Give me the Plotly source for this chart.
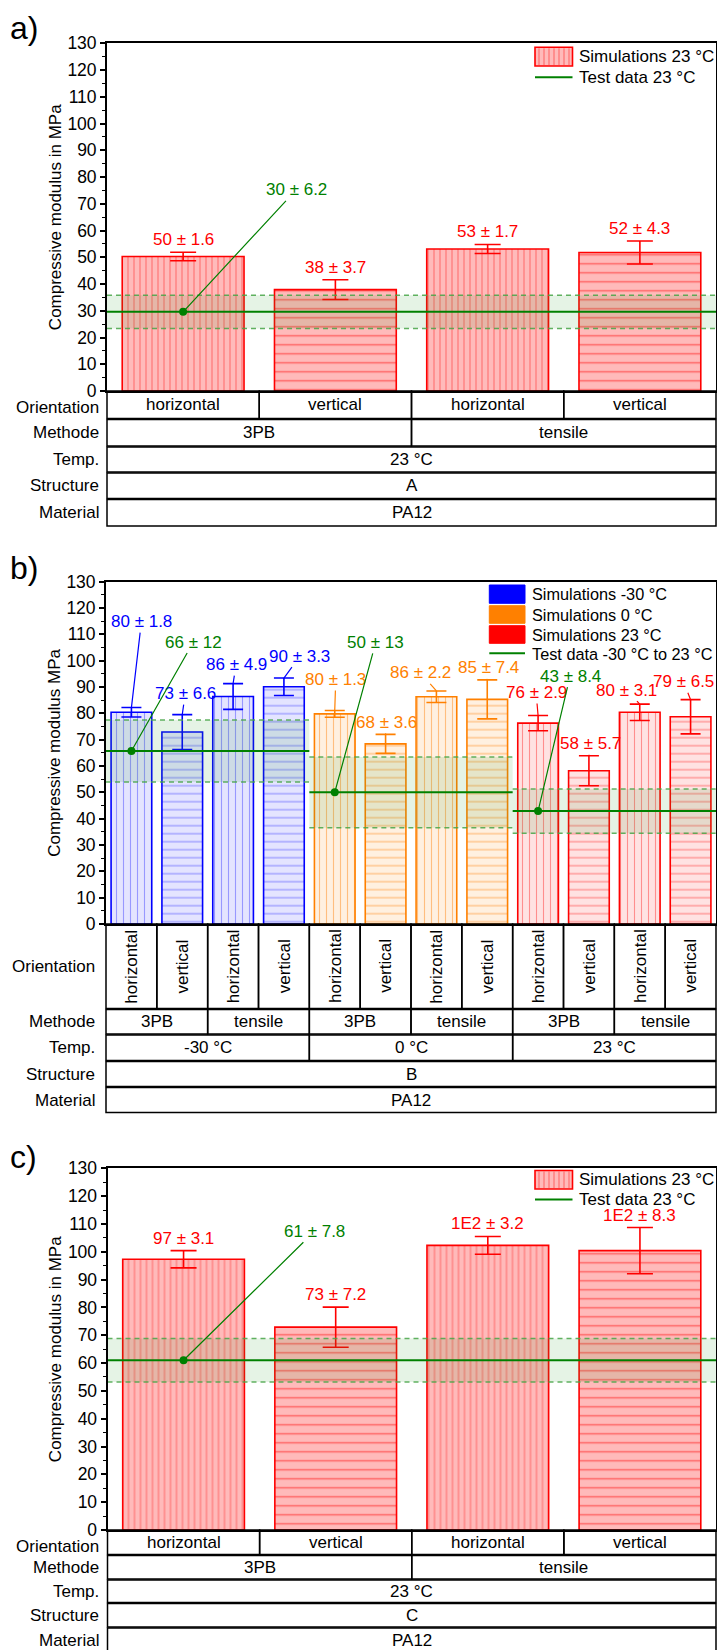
import math
import plotly.graph_objects as go

W, H = 717, 1650
FONT = "Liberation Sans, Arial, Helvetica, sans-serif"
FS = 17
TICK_FS = 17.5

# ---------------- data ----------------
row_names = ["Orientation", "Methode", "Temp.", "Structure", "Material"]

# a) structure A, 23 °C
a_orientation = ["horizontal", "vertical", "horizontal", "vertical"]
a_method = ["3PB", "tensile"]
a_temperature = ["23 °C"]
a_structure = ["A"]
a_material = ["PA12"]
a_modulus = [50.3, 37.9, 53.1, 51.8]
a_modulus_sd = [1.6, 3.7, 1.7, 4.3]
a_test_mean = [29.6]
a_test_sd = [6.2]

# b) structure B, -30 °C / 0 °C / 23 °C
b_orientation = ["horizontal", "vertical"] * 6
b_method = ["3PB", "tensile"] * 3
b_temperature = ["-30 °C", "0 °C", "23 °C"]
b_structure = ["B"]
b_material = ["PA12"]
b_modulus = [80.4, 72.9, 86.4, 90.1, 79.8, 68.4, 86.3, 85.3, 76.3, 58.2, 80.4, 78.7]
b_modulus_sd = [1.8, 6.6, 4.9, 3.3, 1.3, 3.6, 2.2, 7.4, 2.9, 5.7, 3.1, 6.5]
b_test_mean = [65.7, 50.0, 42.9]
b_test_sd = [11.8, 13.4, 8.4]

# c) structure C, 23 °C
c_orientation = ["horizontal", "vertical", "horizontal", "vertical"]
c_method = ["3PB", "tensile"]
c_temperature = ["23 °C"]
c_structure = ["C"]
c_material = ["PA12"]
c_modulus = [97.3, 72.9, 102.3, 100.4]
c_modulus_sd = [3.1, 7.2, 3.2, 8.3]
c_test_mean = [61.0]
c_test_sd = [7.8]

# ---------------- style ----------------
RED, BLUE, ORANGE, GREEN = "#ff0000", "#0000ff", "#ff8000", "#008000"
BAND = "rgba(40,160,40,0.12)"
BAND_EDGE = "rgba(70,165,70,0.85)"
BAR_STYLE = {
    "red_a": dict(edge=RED, bg="#ffbaba", fg="rgba(255,40,40,0.6)"),
    "blue": dict(edge=BLUE, bg="#e4e4ff", fg="rgba(60,60,255,0.45)"),
    "orange": dict(edge=ORANGE, bg="#fff0e0", fg="rgba(255,140,30,0.5)"),
    "red_b": dict(edge=RED, bg="#ffe2e2", fg="rgba(255,40,40,0.45)"),
}


def px(x):
    return x / W


def py(y):
    return 1 - y / H


def sig2(v):
    """Two significant digits, Origin style (100 -> 1E2)."""
    d = math.floor(math.log10(abs(v)))
    r = round(v, 1 - d)
    if d >= 2:
        m = r / 10 ** d
        ms = f"{m:.1f}".rstrip("0").rstrip(".")
        return f"{ms}E{d}"
    return f"{r:.{max(0, 1 - d)}f}"


def pm(v, e):
    return f"{sig2(v)} ± {sig2(e)}"


fig = go.Figure()
annotations = []
shapes = []


def add_bars(xa, ya, idx, vals, errs, orient, style, cap, hsize, vsize):
    st = BAR_STYLE[style]
    shp = ["|" if o == "horizontal" else "-" for o in orient]
    sz = [vsize if o == "horizontal" else hsize for o in orient]
    fig.add_trace(go.Bar(
        x=idx, y=vals, width=0.8, xaxis=xa, yaxis=ya, showlegend=False,
        hoverinfo="skip",
        marker=dict(color=st["bg"], line=dict(color=st["edge"], width=1.6),
                    pattern=dict(shape=shp, fgcolor=st["fg"], bgcolor=st["bg"],
                                 size=sz, solidity=0.16, fillmode="replace")),
        error_y=dict(type="data", array=errs, color=st["edge"], thickness=1.6, width=cap),
    ))


def add_test(xa, ya, x_from, x_to, mean, sd, pt_x):
    xr = [x_from, x_to]
    common = dict(xaxis=xa, yaxis=ya, showlegend=False, hoverinfo="skip", mode="lines")
    fig.add_trace(go.Scatter(x=xr, y=[mean + sd] * 2,
                             line=dict(color=BAND_EDGE, width=1.5, dash="5px,4px"), **common))
    fig.add_trace(go.Scatter(x=xr, y=[mean - sd] * 2, fill="tonexty", fillcolor=BAND,
                             line=dict(color=BAND_EDGE, width=1.5, dash="5px,4px"), **common))
    fig.add_trace(go.Scatter(x=xr, y=[mean] * 2, line=dict(color=GREEN, width=2), **common))
    fig.add_trace(go.Scatter(x=[pt_x], y=[mean], mode="markers", xaxis=xa, yaxis=ya,
                             showlegend=False, hoverinfo="skip",
                             marker=dict(color=GREEN, size=8)))


def label(xa, ya, x, y, text, color, ax=None, ay=None):
    a = dict(x=x, y=y, xref=xa, yref=ya, text=text,
             font=dict(family=FONT, size=FS, color=color))
    if ax is None:
        a.update(showarrow=False, xanchor="center", yanchor="bottom", yshift=1)
    else:
        a.update(showarrow=True, ax=ax, ay=ay, arrowhead=0, arrowwidth=1.2,
                 arrowcolor=color, standoff=0)
    annotations.append(a)


def text_at(x, y, text, size=FS, xanchor="center", angle=0, xref="paper"):
    annotations.append(dict(x=x, y=y, xref=xref, yref="paper", text=text, textangle=angle,
                            showarrow=False, xanchor=xanchor, yanchor="middle",
                            font=dict(family=FONT, size=size, color="black")))


def table(xa, ncat, rows, cells, lab_x, rotate_first=False, first_label_drop=0):
    dom = xa + " domain"
    for r, ((top, bot), name, labels) in enumerate(zip(rows, row_names, cells)):
        span = ncat // len(labels)
        for k, txt in enumerate(labels):
            x0 = k * span / ncat
            x1 = (k + 1) * span / ncat
            shapes.append(dict(type="rect", xref=dom, yref="paper", x0=x0, x1=x1,
                               y0=py(bot), y1=py(top), line=dict(color="black", width=1.5)))
            angle = -90 if (rotate_first and name == "Orientation") else 0
            text_at((x0 + x1) / 2, py((top + bot) / 2), txt, angle=angle, xref=dom)
        drop = first_label_drop if r == 0 else 0
        text_at(px(lab_x), py((top + bot) / 2 + drop), name, xanchor="right")


def axes(n, x0, x1, top, bot, ncat):
    sx = "" if n == 1 else str(n)
    xa = dict(domain=[px(x0), px(x1)], range=[-0.5, ncat - 0.5], showticklabels=False,
              ticks="", showline=True, linecolor="black", linewidth=1.8, mirror=True,
              showgrid=False, zeroline=False, anchor="y" + sx, automargin=False)
    ya = dict(domain=[py(bot), py(top)], range=[0, 130], dtick=10, tick0=0,
              ticks="outside", ticklen=5, tickwidth=1.5, tickcolor="black",
              minor=dict(dtick=5, ticks="outside", ticklen=3, tickwidth=1.2, tickcolor="black"),
              showline=True, linecolor="black", linewidth=1.8, mirror=True,
              showgrid=False, zeroline=False, anchor="x" + sx, automargin=False,
              tickfont=dict(family=FONT, size=TICK_FS, color="black"))
    return {"xaxis" + sx: xa, "yaxis" + sx: ya}


def ytitle(text, top, bot):
    text_at(px(55), py((top + bot) / 2), text, angle=-90)


def tag(text, y):
    text_at(px(8), py(y), text, size=32, xanchor="left")


def legend_text(x, y, text, size=17):
    text_at(px(x), py(y), text, size=size, xanchor="left")


def legend_patch_hatched(x0, x1, y0, y1):
    st = BAR_STYLE["red_a"]
    shapes.append(dict(type="rect", xref="paper", yref="paper", x0=px(x0), x1=px(x1),
                       y0=py(y1), y1=py(y0), fillcolor=st["bg"],
                       line=dict(color=RED, width=1.6)))
    x = x0 + 4
    while x < x1 - 2:
        shapes.append(dict(type="line", xref="paper", yref="paper", x0=px(x), x1=px(x),
                           y0=py(y1 - 1), y1=py(y0 + 1), line=dict(color=st["fg"], width=1)))
        x += 5


def legend_patch_solid(x0, x1, y0, y1, color):
    shapes.append(dict(type="rect", xref="paper", yref="paper", x0=px(x0), x1=px(x1),
                       y0=py(y1), y1=py(y0), fillcolor=color,
                       line=dict(color=color, width=1)))


def legend_line(x0, x1, y):
    shapes.append(dict(type="line", xref="paper", yref="paper", x0=px(x0), x1=px(x1),
                       y0=py(y), y1=py(y), line=dict(color=GREEN, width=2)))


layout_axes = {}

# ================= panel a =================
A = dict(x0=107, x1=716, top=43.3, bot=391)
layout_axes.update(axes(1, A["x0"], A["x1"], A["top"], A["bot"], 4))
idx4 = list(range(4))
add_bars("x", "y", idx4, a_modulus, a_modulus_sd, a_orientation, "red_a", 13, 9, 6)
add_test("x", "y", -0.5, 3.5, a_test_mean[0], a_test_sd[0], 0)
for i in idx4:
    label("x", "y", i, a_modulus[i] + a_modulus_sd[i], pm(a_modulus[i], a_modulus_sd[i]), RED)
label("x", "y", 0, a_test_mean[0], pm(a_test_mean[0], a_test_sd[0]), GREEN, 113, -122)
table("x", 4, [(391, 418.5), (419.5, 446), (447, 472), (473, 498.5), (499.5, 526)],
      [a_orientation, a_method, a_temperature, a_structure, a_material], 100.6,
      first_label_drop=2.5)
ytitle("Compressive modulus in MPa", A["top"], A["bot"])
tag("a)", 28)
legend_patch_hatched(535, 572.5, 47.3, 66)
legend_text(577, 56.7, "Simulations 23 °C")
legend_line(535, 572.5, 77.3)
legend_text(577, 77.3, "Test data 23 °C")

# ================= panel b =================
B = dict(x0=106, x1=716, top=581.7, bot=924)
layout_axes.update(axes(2, B["x0"], B["x1"], B["top"], B["bot"], 12))
group_style = ["blue", "orange", "red_b"]
group_color = [BLUE, ORANGE, RED]
# label offsets (px) relative to the error-bar tip
b_label_dx = [10, 3, 3, 16, 1, 1, -16, 1, -2, 2, -13, -7]
b_label_dy = [-86, -21, -19, -22, -31, -12, -18, -12, -23, -12, -14, -18]
b_test_dx = [62, 41, 32]
b_test_dy = [-109, -150, -135]
for g in range(3):
    idx = [4 * g + k for k in range(4)]
    add_bars("x2", "y2", idx, [b_modulus[i] for i in idx], [b_modulus_sd[i] for i in idx],
             [b_orientation[i] for i in idx], group_style[g], 10, 8, 7)
for g in range(3):
    add_test("x2", "y2", 4 * g - 0.5, 4 * g + 3.5, b_test_mean[g], b_test_sd[g], 4 * g)
for i in range(12):
    label("x2", "y2", i, b_modulus[i] + b_modulus_sd[i], pm(b_modulus[i], b_modulus_sd[i]),
          group_color[i // 4], b_label_dx[i], b_label_dy[i])
for g in range(3):
    label("x2", "y2", 4 * g, b_test_mean[g], pm(b_test_mean[g], b_test_sd[g]), GREEN,
          b_test_dx[g], b_test_dy[g])
table("x2", 12, [(924, 1008.5), (1009.5, 1034), (1035, 1060.5), (1061.5, 1086.5), (1087.5, 1112.5)],
      [b_orientation, b_method, b_temperature, b_structure, b_material], 97.4, rotate_first=True)
ytitle("Compressive modulus MPa", B["top"], B["bot"])
tag("b)", 567.5)
legend_patch_solid(489.3, 525, 585, 603.3, BLUE)
legend_patch_solid(489.3, 525, 605.7, 623.3, ORANGE)
legend_patch_solid(489.3, 525, 625.7, 643.3, RED)
legend_line(489.3, 525, 653.3)
legend_text(530.4, 594, "Simulations -30 °C", 16.3)
legend_text(530.4, 614.5, "Simulations 0 °C", 16.3)
legend_text(530.4, 634.5, "Simulations 23 °C", 16.3)
legend_text(530.4, 654, "Test data -30 °C to 23 °C", 16.3)

# ================= panel c =================
C = dict(x0=107.5, x1=716, top=1168.3, bot=1530)
layout_axes.update(axes(3, C["x0"], C["x1"], C["top"], C["bot"], 4))
add_bars("x3", "y3", idx4, c_modulus, c_modulus_sd, c_orientation, "red_a", 13, 9, 6)
add_test("x3", "y3", -0.5, 3.5, c_test_mean[0], c_test_sd[0], 0)
for i in idx4:
    label("x3", "y3", i, c_modulus[i] + c_modulus_sd[i], pm(c_modulus[i], c_modulus_sd[i]), RED)
label("x3", "y3", 0, c_test_mean[0], pm(c_test_mean[0], c_test_sd[0]), GREEN, 131, -129)
table("x3", 4, [(1530, 1554.5), (1555.5, 1579), (1580, 1602.5), (1603.5, 1627), (1628, 1652)],
      [c_orientation, c_method, c_temperature, c_structure, c_material], 100.6,
      first_label_drop=4)
ytitle("Compressive modulus in MPa", C["top"], C["bot"])
tag("c)", 1156.5)
legend_patch_hatched(535, 572.5, 1170.5, 1189)
legend_text(577, 1179.7, "Simulations 23 °C")
legend_line(535, 572.5, 1199.5)
legend_text(577, 1199.5, "Test data 23 °C")

fig.update_layout(
    width=W, height=H, margin=dict(l=0, r=0, t=0, b=0, pad=0, autoexpand=False),
    paper_bgcolor="white", plot_bgcolor="white",
    font=dict(family=FONT, size=FS, color="black"),
    showlegend=False, barmode="overlay",
    annotations=annotations, shapes=shapes,
    **layout_axes,
)

fig.write_html("out.html")
